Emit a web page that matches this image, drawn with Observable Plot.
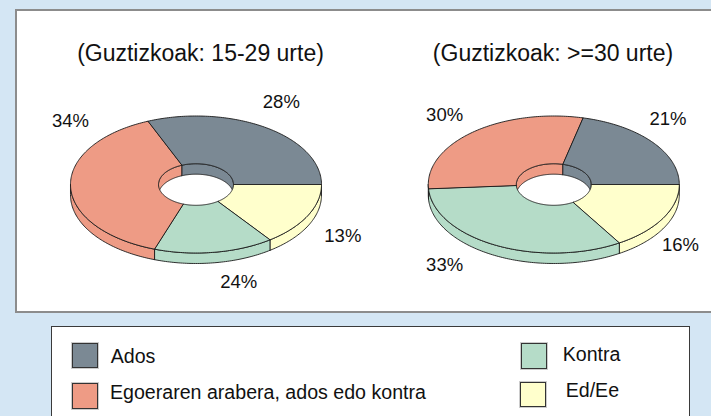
<!DOCTYPE html>
<html><head><meta charset="utf-8">
<script src="https://cdn.jsdelivr.net/npm/d3@7"></script>
<script src="https://cdn.jsdelivr.net/npm/@observablehq/plot@0.6"></script>
<style>
body{margin:0;background:#d4e6f4;width:711px;height:416px;overflow:hidden;position:relative;font-family:Arial,"Liberation Sans",sans-serif;}
#panel{position:absolute;left:15px;top:9px;width:700px;height:300px;background:#fff;border:2px solid #8c8c8c;border-right:none;}
#chart{position:absolute;left:0;top:0;}
#legend{position:absolute;left:50.5px;top:326px;width:637px;height:100px;background:#fff;border:1.5px solid #3a3a3a;}
.sw{position:absolute;width:24px;height:23.5px;border:1.3px solid #333;box-shadow:0 0 0 1px #ccc;}
.lt{position:absolute;font-size:19.6px;line-height:1;color:#111;white-space:nowrap;}
</style></head><body>
<div id="panel"></div><div id="chart"></div><div id="legend"></div>
<script>
// ---- data ----
const categories = ["Ados", "Egoeraren arabera, ados edo kontra", "Kontra", "Ed/Ee"];
const colors = ["#7b8994", "#ee9b85", "#b5dcc8", "#ffffcc"];
const titles = ["(Guztizkoak: 15-29 urte)", "(Guztizkoak: >=30 urte)"];
// slice sizes as drawn in the picture (%)
const youngValues = [31.3, 38.4, 15.4, 14.9];
const olderValues = [21.3, 29.8, 32.7, 16.2];
// printed labels
const youngLabels = ["28%", "34%", "24%", "13%"];
const olderLabels = ["21%", "30%", "33%", "16%"];

// ---- layout ----
const W = 711, H = 316;
const pieCx = [195.5, 553.3], pieCy = 184;
const rx = 125.5, ry = 68.5, irx = 37.5, iry = 20.8, depth = 10.5;
const titleX = [200, 552.5], titleY = 53;
// label offsets in ellipse units (u along rx, v along ry)
const labelUV = [
  [[0.68, 1.20], [-1.0, 0.93], [0.34, -1.42], [1.17, -0.76]],
  [[0.91, 0.96], [-0.87, 1.01], [-0.87, -1.18], [1.01, -0.88]]
];
const pies = [
  {values: youngValues, labels: youngLabels},
  {values: olderValues, labels: olderLabels}
];

const rad = d => d * Math.PI / 180;
function arc(cx, a0, a1, r1, r2, dy) {
  const pts = [];
  const n = Math.max(2, Math.ceil(Math.abs(a1 - a0)));
  for (let i = 0; i <= n; i++) {
    const t = rad(a0 + (a1 - a0) * i / n);
    pts.push([cx + r1 * Math.cos(t), pieCy - r2 * Math.sin(t) + dy]);
  }
  return pts;
}

const innerWalls = [], sideWalls = [], tops = [], labels = [];
pies.forEach((p, pi) => {
  const cx = pieCx[pi];
  const total = d3.sum(p.values);
  let a = 0;
  p.values.forEach((v, ci) => {
    const a0 = a, a1 = a + v / total * 360; a = a1;
    const cat = categories[ci];
    const push = (arr, pts, id) => pts.forEach(([x, y]) => arr.push({x, y, id, cat}));
    // inner back wall (0..180)
    const s0 = Math.max(a0, 0), e0 = Math.min(a1, 180);
    if (e0 > s0) {
      push(innerWalls, [...arc(cx, s0, e0, irx, iry, 0), ...arc(cx, e0, s0, irx, iry, depth)], `iw${pi}${ci}`);
    }
    // outer front wall (180..360)
    const s1 = Math.max(a0, 180), e1 = Math.min(a1, 360);
    if (e1 > s1) {
      push(sideWalls, [...arc(cx, s1, e1, rx, ry, 0), ...arc(cx, e1, s1, rx, ry, depth)], `sw${pi}${ci}`);
    }
    // top face
    push(tops, [...arc(cx, a0, a1, rx, ry, 0), ...arc(cx, a1, a0, irx, iry, 0)], `t${pi}${ci}`);
    const [u, w] = labelUV[pi][ci];
    labels.push({x: cx + u * rx, y: pieCy - w * ry, text: p.labels[ci]});
  });
});
const titleData = titles.map((t, i) => ({x: titleX[i], y: titleY, text: t}));

const poly = data => Plot.line(data, {x: "x", y: "y", z: "id", fill: "cat", stroke: "#1a1a1a", strokeWidth: 0.9, curve: "linear-closed", strokeLinejoin: "round"});

const chart = Plot.plot({
  width: W, height: H, margin: 0,
  style: {background: "transparent", fontFamily: "Arial, 'Liberation Sans', sans-serif"},
  x: {domain: [0, W], range: [0, W], axis: null},
  y: {domain: [0, H], range: [0, H], axis: null},
  color: {domain: categories, range: colors},
  marks: [
    poly(innerWalls),
    poly(sideWalls),
    poly(tops),
    Plot.text(labels, {x: "x", y: "y", text: "text", fontSize: 18.5, fill: "#111"}),
    Plot.text(titleData, {x: "x", y: "y", text: "text", fontSize: 23, fill: "#111"})
  ]
});
document.getElementById("chart").appendChild(chart);

// ---- legend ----
const swatchPos = [[72, 342.5], [72, 383], [521, 343.3], [519.5, 381.7]];
const textPos = [[110.7, 363.3], [110, 400], [562.7, 361.7], [565.7, 397.3]];
const color = chart.scale("color");
categories.forEach((c, i) => {
  const s = document.createElement("div");
  s.className = "sw";
  s.style.left = swatchPos[i][0] + "px"; s.style.top = swatchPos[i][1] + "px";
  s.style.background = color.apply(c);
  document.body.appendChild(s);
  const t = document.createElement("div");
  t.className = "lt";
  t.textContent = c;
  t.style.left = textPos[i][0] + "px";
  t.style.top = (textPos[i][1] - 0.8465 * 19.6) + "px";
  document.body.appendChild(t);
});
</script></body></html>
